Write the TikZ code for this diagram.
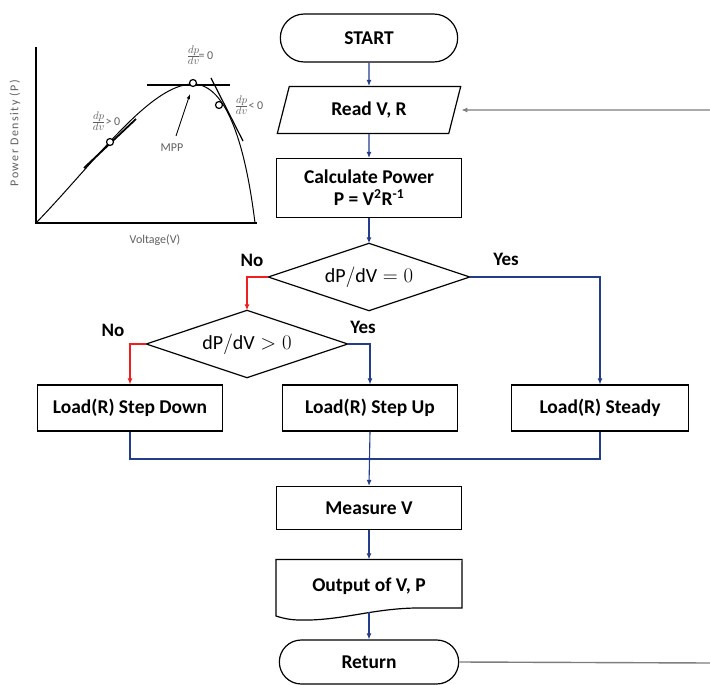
\documentclass[tikz,border=0pt]{standalone}
\usepackage{fontspec}
\setmainfont{Carlito}
\usepackage{tikz}
\usetikzlibrary{arrows.meta, positioning, shapes.geometric, shapes.misc}

\definecolor{flowblue}{RGB}{35,60,140}
\definecolor{flowred}{RGB}{240,30,30}
\definecolor{loopgray}{RGB}{125,125,125}
\definecolor{plotgray}{RGB}{95,95,95}

\begin{document}
\begin{tikzpicture}[x=1pt, y=-1pt,
    box/.style={draw, line width=1.2pt, minimum width=185pt, minimum height=46pt, align=center,
                font=\fontsize{19.5}{22}\selectfont\bfseries},
    term/.style={box, rounded rectangle, minimum width=184pt, minimum height=48pt},
    io/.style={box, trapezium, trapezium left angle=75, trapezium right angle=105,
               trapezium stretches=true, minimum width=185pt, minimum height=47pt},
    decide/.style={minimum width=201pt, minimum height=67pt, inner sep=0pt,
                   font=\fontsize{20}{22}\selectfont},
    rhomb/.style={line width=1.2pt},
    flow/.style={-{Latex[length=6pt,width=5pt]}, draw=flowblue, line width=1.1pt},
    back/.style={draw=loopgray, line width=1.4pt},
    answer/.style={font=\fontsize{19}{21}\selectfont\bfseries},
    plottext/.style={text=plotgray, font=\fontsize{12}{14}\selectfont},
    pointmark/.style={draw, fill=white, line width=1.2pt},
]
  \useasboundingbox (0,0) rectangle (710,685);

  % flowchart
  \node[term]   (start)   at (369,38)  {START};
  \node[io]     (read)    at (369,110) {Read V, R};
  \node[box, minimum height=59pt] (calc) at (369,188)
       {Calculate Power\\P = V\textsuperscript{2}R\textsuperscript{-1}};
  \node[decide] (dec1)    at (369,277) {$\mathrm{dP/dV} = 0$};
  \node[decide] (dec2)    at (247,344) {$\mathrm{dP/dV} > 0$};
  \node[box]    (down)    at (130,408) {Load(R) Step Down};
  \node[box, minimum width=175pt] (up) at (370,408) {Load(R) Step Up};
  \node[box, minimum width=177pt] (steady) at (600,408) {Load(R) Steady};
  \node[box, minimum height=43pt] (measure) at (369,508) {Measure V};
  \node[box, draw=none, minimum height=52pt] (output) at (369,586) {Output of V, P};
  \node[term, minimum width=186pt, minimum height=44pt] (ret) at (369,662) {Return};

  % decision outlines and document shape
  \foreach \d in {dec1, dec2}
    \draw[rhomb] (\d.north) -- (\d.east) -- (\d.south) -- (\d.west) -- cycle;
  \draw[line width=1.2pt] (output.north west) -- (output.north east) -- (462,608)
       -- (415,608) .. controls (370,609) and (340,621) .. (300,620)
       .. controls (290,620) and (282,618) .. (276,616) -- cycle;

  \node[answer] (no1)  at (252,260) {No};
  \node[answer] (yes1) at (506,259) {Yes};
  \node[answer] (no2)  at (113,330) {No};
  \node[answer] (yes2) at (363,327) {Yes};

  \coordinate (join)    at (370,459);
  \coordinate (docfoot) at (369,612);
  \coordinate (loopout) at (710,663);
  \coordinate (loopin)  at (710,110);

  \draw[flow] (start) -- (read);
  \draw[flow] (read) -- (calc);
  \draw[flow] (calc) -- (dec1.north);
  \draw[flow, draw=flowred] (dec1.west) -| (dec2.north);
  \draw[flow] (dec1.east) -| (steady.north);
  \draw[flow, draw=flowred] (dec2.west) -| (down.north);
  \draw[flow] (dec2.east) -| (up.north);
  \draw[draw=flowblue, line width=1.1pt] (down.south) |- (join) -| (steady.south);
  \draw[flow] (up.south) -- (measure.north);
  \draw[flow] (measure) -- (output.north);
  \draw[flow] (docfoot) -- (ret.north);
  \draw[back] (ret.east) -- (loopout);
  \draw[back, -{Latex[length=6pt,width=5pt]}] (loopin) -- ([xshift=6pt]read.east);

  % P-V curve inset
  \draw[line width=2pt] (36,47) -- (36,223) -- (257,223);
  \draw[line width=1pt] (36,223) .. controls (95,162) and (150,84) .. (193,84)
       .. controls (228,84) and (246,150) .. (255,223);
  \draw[line width=1.8pt] (84,168) -- (136,119);
  \draw[line width=1.2pt] (147,85) -- (230,85);
  \draw[line width=1.2pt] (211,78) -- (243,141);
  \draw[pointmark] (110,142) circle (3.5);
  \draw[pointmark] (193,83) circle (3.5);
  \draw[pointmark] (219,105) circle (3.5);
  \draw[-{Latex[length=5pt,width=3.5pt]}, line width=0.8pt] (176,136) -- (190,94);
  \node[plottext] (mpp)  at (172,148) {MPP};
  \node[plottext] (zero) at (200,55)  {{\fontsize{15}{16}\selectfont$\frac{dp}{dv}$}\!= 0};
  \node[plottext] (pos)  at (106,121) {{\fontsize{15}{16}\selectfont$\frac{dp}{dv}$}> 0};
  \node[plottext] (neg)  at (249,105) {{\fontsize{15}{16}\selectfont$\frac{dp}{dv}$}< 0};
  \node[plottext] (vlab) at (155,240) {Voltage(V)};
  \node[plottext, rotate=90] (plab) at (15,133)
       {\addfontfeature{LetterSpace=12}Power Density (P)};
\end{tikzpicture}
\end{document}
